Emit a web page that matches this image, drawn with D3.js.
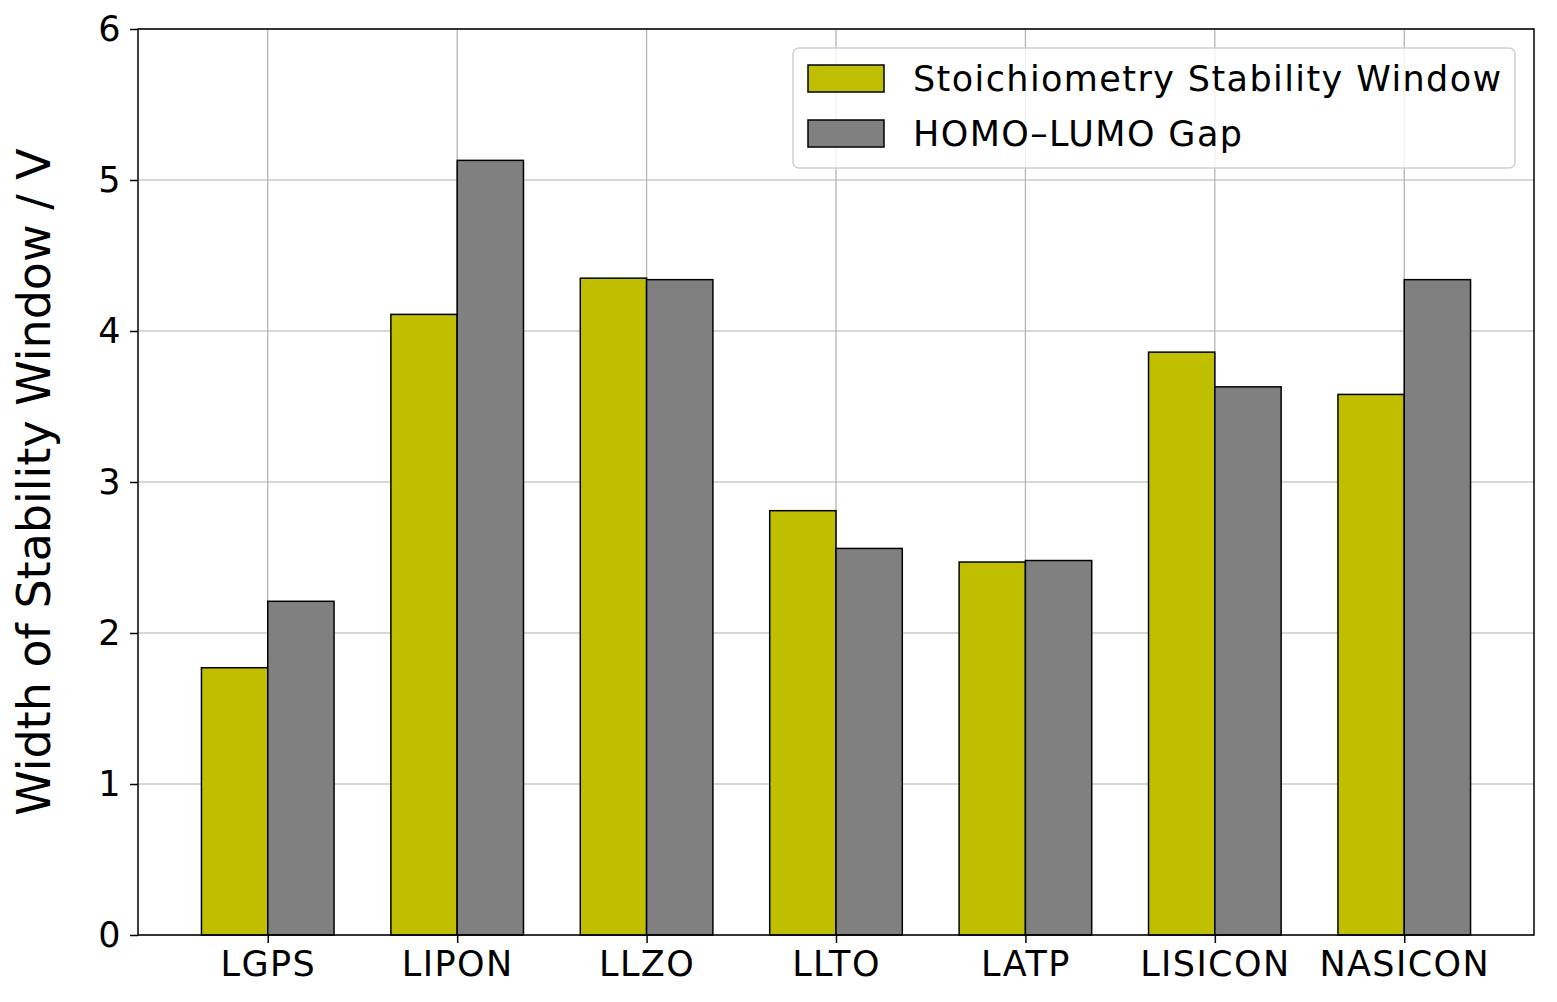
<!DOCTYPE html>
<html>
<head>
<meta charset="utf-8">
<script src="https://cdn.jsdelivr.net/npm/d3@7"></script>
<style>
  body { margin: 0; background: #fff; }
  svg { font-family: "DejaVu Sans", sans-serif; }
</style>
</head>
<body>
<div id="chart"></div>
<script>
// Data.
const categories = ['LGPS', 'LIPON', 'LLZO', 'LLTO', 'LATP', 'LISICON', 'NASICON'];
const stoichiometryWindow = [1.77, 4.11, 4.35, 2.81, 2.47, 3.86, 3.58];
const homoLumoGap = [2.21, 5.13, 4.34, 2.56, 2.48, 3.63, 4.34];
const yTicks = [0, 1, 2, 3, 4, 5, 6];

const series = [
    {name: 'Stoichiometry Stability Window', values: stoichiometryWindow, color: '#bfbf00'},
    {name: 'HOMO\u2013LUMO Gap', values: homoLumoGap, color: '#808080'}
];

// Set the dimensions and margins of the graph.
const totalWidth = 1557, totalHeight = 1002;
const margin = {top: 29, right: 23, bottom: 67, left: 138};
const width = totalWidth - margin.left - margin.right;
const height = totalHeight - margin.top - margin.bottom;

const svgRoot = d3.select('#chart')
    .append('svg')
        .attr('width', totalWidth)
        .attr('height', totalHeight);
const svg = svgRoot.append('g')
    .attr('transform', `translate(${margin.left},${margin.top})`);

// Scales: categories sit at integer positions like matplotlib.
const barW = 0.35;
const x = d3.scaleLinear().domain([-0.685, categories.length - 1 + 0.685]).range([0, width]);
const y = d3.scaleLinear().domain([0, 6]).range([height, 0]);

// Grid lines.
svg.append('g')
    .selectAll('line.hgrid')
    .data(yTicks)
    .enter()
    .append('line')
        .attr('x1', 0).attr('x2', width)
        .attr('y1', d => y(d)).attr('y2', d => y(d))
        .attr('stroke', '#b0b0b0').attr('stroke-width', 1.2);
svg.append('g')
    .selectAll('line.vgrid')
    .data(categories)
    .enter()
    .append('line')
        .attr('x1', (d, i) => x(i)).attr('x2', (d, i) => x(i))
        .attr('y1', 0).attr('y2', height)
        .attr('stroke', '#b0b0b0').attr('stroke-width', 1.2);

// Bars.
series.forEach((s, si) => {
    svg.append('g')
        .selectAll('rect')
        .data(s.values)
        .enter()
        .append('rect')
            .attr('x', (d, i) => x(i + (si - 1) * barW))
            .attr('y', d => y(d))
            .attr('width', x(barW) - x(0))
            .attr('height', d => height - y(d))
            .attr('fill', s.color)
            .attr('stroke', '#000')
            .attr('stroke-width', 1.5);
});

// Axes.
const xAxis = svg.append('g')
    .attr('transform', `translate(0,${height})`)
    .call(d3.axisBottom(x).tickValues(d3.range(categories.length))
        .tickFormat(i => categories[i]).tickSize(8).tickPadding(8));
const yAxis = svg.append('g')
    .call(d3.axisLeft(y).tickValues(yTicks).tickFormat(d3.format('d'))
        .tickSize(8).tickPadding(8));
[xAxis, yAxis].forEach(g => {
    g.select('.domain').remove();
    g.selectAll('line').attr('stroke', '#000').attr('stroke-width', 1.5);
    g.selectAll('text').attr('fill', '#000').style('font-size', '35px')
        .style('letter-spacing', '1.4px')
        .style('font-family', '"DejaVu Sans", sans-serif');
});

// Frame.
svg.append('rect')
    .attr('width', width).attr('height', height)
    .attr('fill', 'none').attr('stroke', '#000').attr('stroke-width', 1.5);

// Y axis label.
svgRoot.append('text')
    .attr('transform', `translate(50,${margin.top + height / 2}) rotate(-90)`)
    .attr('text-anchor', 'middle')
    .style('font-size', '46px')
    .text('Width of Stability Window / V');

// Legend.
const legend = svgRoot.append('g').attr('transform', 'translate(793,48)');
legend.append('rect')
    .attr('width', 722).attr('height', 120).attr('rx', 6)
    .attr('fill', 'rgba(255,255,255,0.8)').attr('stroke', '#d0d0d0').attr('stroke-width', 1.5);
series.forEach((s, si) => {
    const row = legend.append('g').attr('transform', `translate(0,${17 + si * 55})`);
    row.append('rect')
        .attr('x', 15).attr('width', 76).attr('height', 27)
        .attr('fill', s.color).attr('stroke', '#000').attr('stroke-width', 1.5);
    row.append('text')
        .attr('x', 120).attr('y', 26)
        .style('font-size', '35px')
        .style('letter-spacing', '1.4px')
        .text(s.name);
});
</script>
</body>
</html>
